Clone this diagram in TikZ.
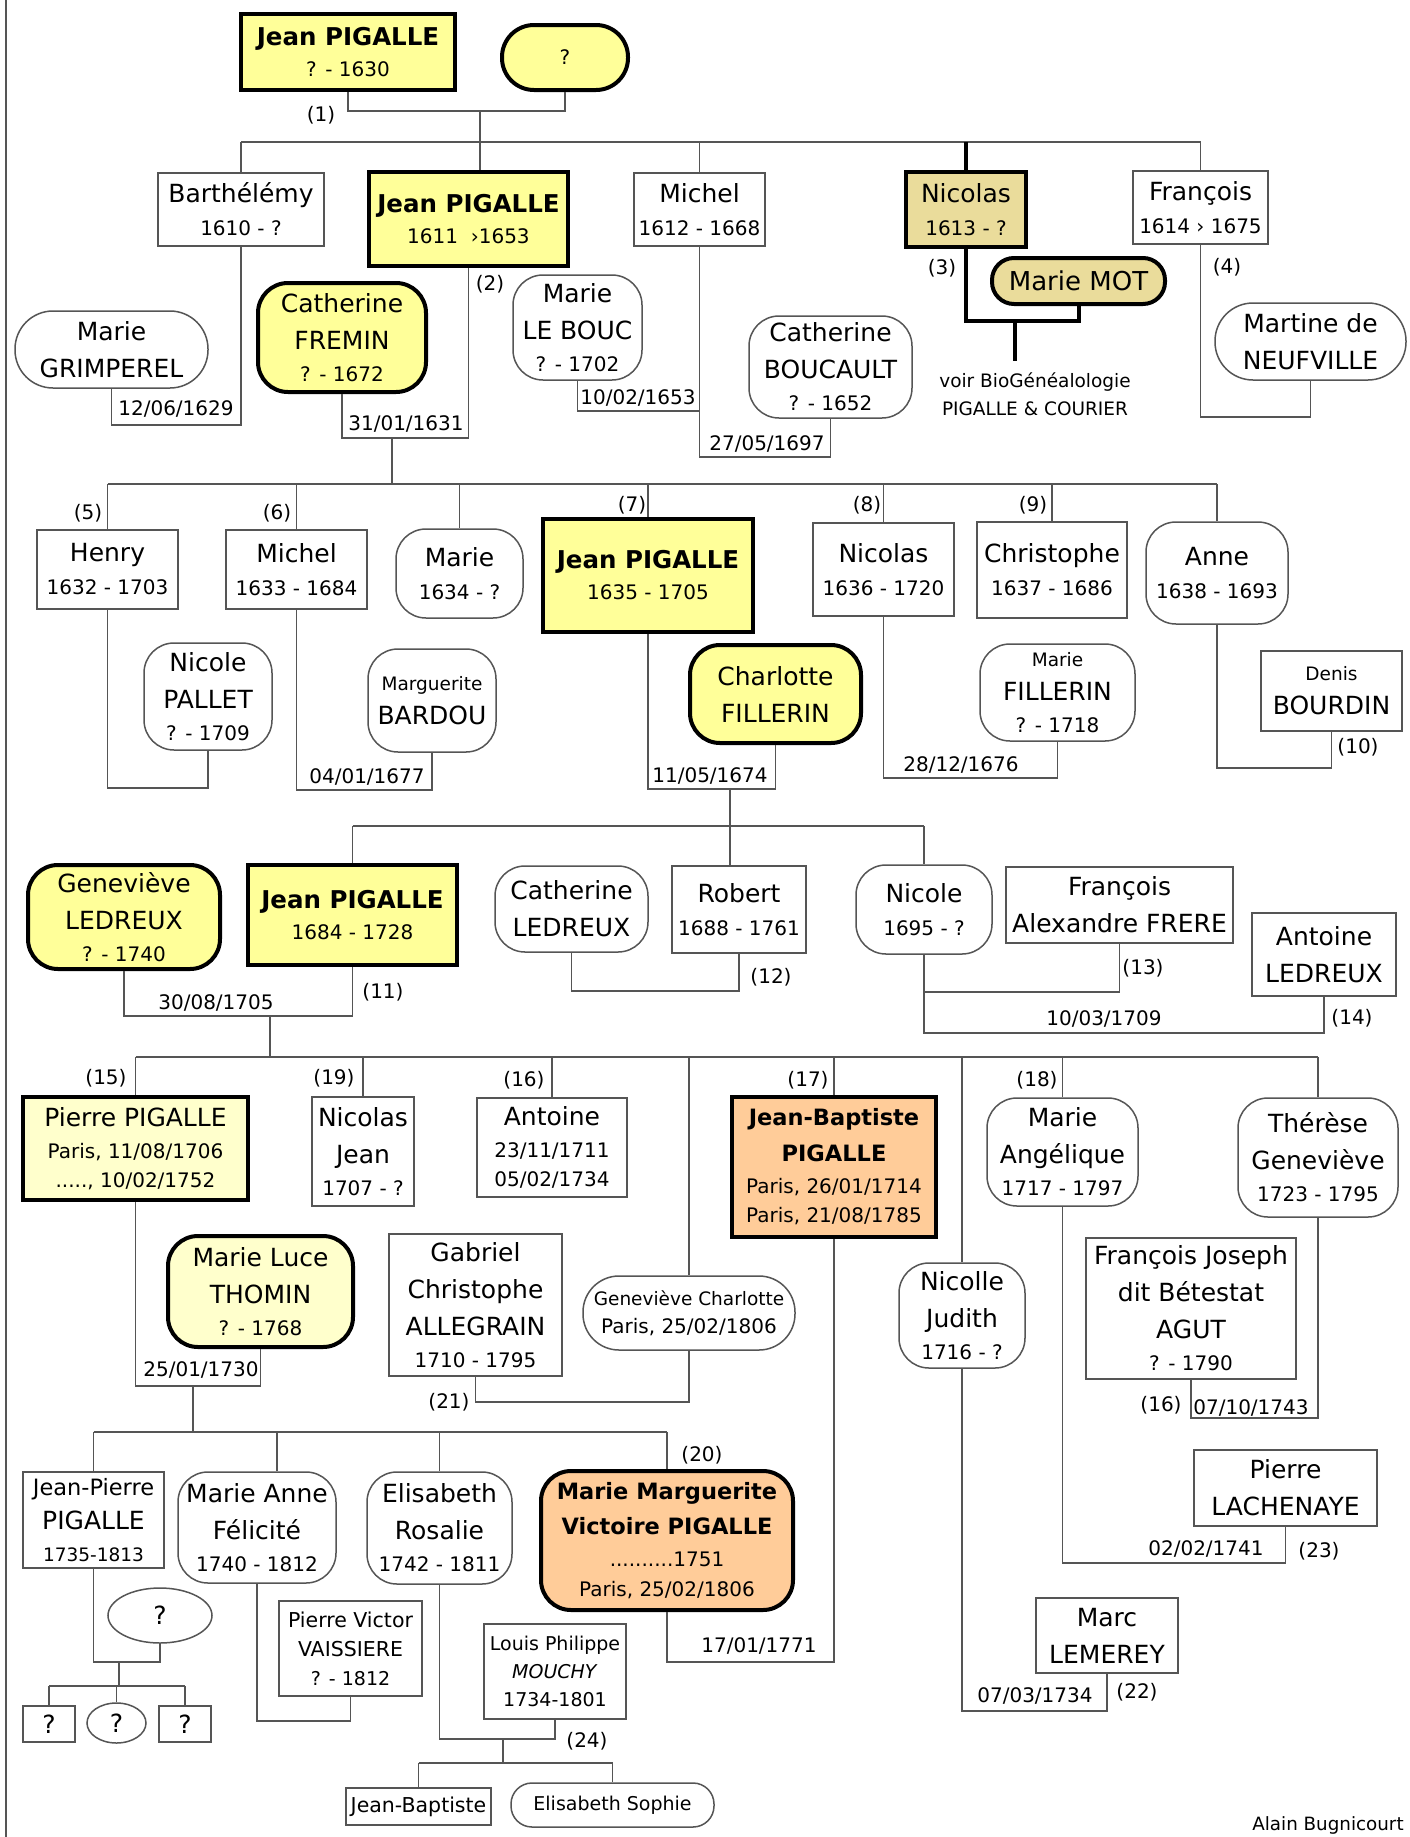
\documentclass[tikz,border=0pt]{standalone}
\usepackage{fontspec}
\setmainfont{DejaVu Sans}
\usetikzlibrary{shapes.geometric, calc}

\definecolor{pyellow}{RGB}{255,255,153}
\definecolor{plight}{RGB}{255,255,204}
\definecolor{ptan}{RGB}{234,220,155}
\definecolor{porange}{RGB}{255,204,153}
\definecolor{lnc}{RGB}{85,85,85}

\newcommand\txname{\fontsize{25}{37}\selectfont}
\newcommand\txdate{\fontsize{20}{28}\selectfont}
\newcommand\txbold{\fontsize{24.5}{34}\selectfont\bfseries}
\newcommand\txboldb{\fontsize{22.5}{34}\selectfont\bfseries}
\newcommand\txsmall{\fontsize{18.5}{28}\selectfont}

\begin{document}
\begin{tikzpicture}[x=1pt, y=-1pt,
    person/.style={draw=lnc, line width=1.5pt, fill=white, align=center, inner sep=0pt, font=\txname},
    rperson/.style={person, rounded corners=30pt},
    pperson/.style={person, rounded corners=#1},
    operson/.style={person, ellipse},
    main/.style={draw=black, line width=4pt},
    num/.style={font=\txdate, inner sep=0pt},
    wed/.style={font=\txdate, inner sep=0pt},
    rel/.style={draw=lnc, line width=1.5pt},
    thickrel/.style={draw=black, line width=4pt}
]
\fill[white] (0,0) rectangle (1409,1837);
\useasboundingbox (0,0) rectangle (1409,1837);
\draw[rel] (6,0) -- (6,1837);

% Génération 1
\node[person, main, fill=pyellow, minimum width=214, minimum height=76] (jean1) at (348,52) {{\txbold Jean PIGALLE}\\[-6pt]{\txdate ? - 1630}};
\node[pperson=32pt, main, fill=pyellow, minimum width=126, minimum height=65] (wife1) at (565,57.5) {{\txdate ?}};
\node[num] (n1) at (321,115) {(1)};

% Génération 2
\node[person, minimum width=166, minimum height=73] (barth) at (241,209.5) {Barthélémy\\[-4pt]{\txdate 1610 - ?}};
\node[person, main, fill=pyellow, minimum width=199, minimum height=94] (jean2) at (468.5,219) {{\txbold Jean PIGALLE}\\[-6pt]{\txdate 1611 \ ›1653}};
\node[person, minimum width=131, minimum height=73] (michel1) at (699.5,209.5) {Michel\\[-4pt]{\txdate 1612 - 1668}};
\node[person, main, fill=ptan, minimum width=120, minimum height=75] (nicolas1) at (966,209.5) {Nicolas\\[-4pt]{\txdate 1613 - ?}};
\node[person, minimum width=135, minimum height=73] (francois1) at (1200.5,207.5) {François\\[-4pt]{\txdate 1614 › 1675}};

\node[pperson=38pt, minimum width=193, minimum height=77] (grimp) at (111.5,349.5) {Marie\\GRIMPEREL};
\node[rperson, main, fill=pyellow, minimum width=168, minimum height=109] (fremin) at (342,337.5) {Catherine\\FREMIN\\[-5pt]{\txdate ? - 1672}};
\node[rperson, minimum width=129, minimum height=105] (lebouc) at (577.5,327.5) {Marie\\LE BOUC\\[-5pt]{\txdate ? - 1702}};
\node[rperson, minimum width=163, minimum height=102] (boucault) at (830.5,367) {Catherine\\BOUCAULT\\[-5pt]{\txdate ? - 1652}};
\node[pperson=22pt, main, fill=ptan, minimum width=173, minimum height=46] (mot) at (1078.5,281) {{\fontsize{26}{30}\selectfont Marie MOT}};
\node[pperson=38pt, minimum width=191, minimum height=77] (martine) at (1310.5,341.5) {Martine de\\NEUFVILLE};
\node[font=\txsmall, align=center, inner sep=0pt] (voir) at (1035,394) {voir BioGénéalologie\\PIGALLE \& COURIER};
\coordinate (voirtop) at (1015,361);

\node[num] (n2) at (490,284) {(2)};
\node[num] (n3) at (942,268) {(3)};
\node[num] (n4) at (1227,267) {(4)};
\node[wed] (d1629) at (176,409) {12/06/1629};
\node[wed] (d1631) at (406,424) {31/01/1631};
\node[wed] (d1653) at (638,398) {10/02/1653};
\node[wed] (d1697) at (767,444) {27/05/1697};

% Génération 3
\node[person, minimum width=141, minimum height=79] (henry) at (107.5,569.5) {Henry\\[-4pt]{\txdate 1632 - 1703}};
\node[person, minimum width=141, minimum height=79] (michel2) at (296.5,569.5) {Michel\\[-4pt]{\txdate 1633 - 1684}};
\node[rperson, minimum width=127, minimum height=89] (marie3) at (459.5,573.5) {Marie\\[-4pt]{\txdate 1634 - ?}};
\node[person, main, fill=pyellow, minimum width=210, minimum height=113] (jean3) at (648,575.5) {{\txbold Jean PIGALLE}\\[-6pt]{\txdate 1635 - 1705}};
\node[person, minimum width=141, minimum height=93] (nicolas2) at (883.5,569.5) {Nicolas\\[-4pt]{\txdate 1636 - 1720}};
\node[person, minimum width=150, minimum height=96] (christophe) at (1052,570) {Christophe\\[-4pt]{\txdate 1637 - 1686}};
\node[rperson, minimum width=142, minimum height=102] (anne) at (1217,573) {Anne\\[-4pt]{\txdate 1638 - 1693}};

\node[rperson, minimum width=128, minimum height=107] (pallet) at (208,696.5) {Nicole\\PALLET\\[-5pt]{\txdate ? - 1709}};
\node[rperson, minimum width=128, minimum height=103] (bardou) at (432,700.5) {{\txsmall Marguerite}\\[-3pt]BARDOU};
\node[rperson, main, fill=pyellow, minimum width=171, minimum height=98] (charlotte) at (775.5,694) {Charlotte\\FILLERIN};
\node[rperson, minimum width=155, minimum height=97] (fillerin) at (1057.5,692.5) {{\txsmall Marie}\\[-3pt]FILLERIN\\[-5pt]{\txdate ? - 1718}};
\node[person, minimum width=141, minimum height=80] (bourdin) at (1331.5,691) {{\txsmall Denis}\\[-3pt]BOURDIN};

\node[num] (n5) at (88,513) {(5)};
\node[num] (n6) at (277,513) {(6)};
\node[num] (n7) at (632,505) {(7)};
\node[num] (n8) at (867,505) {(8)};
\node[num] (n9) at (1033,505) {(9)};
\node[num] (n10) at (1358,747) {(10)};
\node[wed] (d1677) at (367,777) {04/01/1677};
\node[wed] (d1674) at (710,776) {11/05/1674};
\node[wed] (d1676) at (961,765) {28/12/1676};

% Génération 4
\node[rperson, main, fill=pyellow, minimum width=192, minimum height=104] (genevieve) at (124,917) {Geneviève\\LEDREUX\\[-5pt]{\txdate ? - 1740}};
\node[person, main, fill=pyellow, minimum width=209, minimum height=100] (jean4) at (352.5,915) {{\txbold Jean PIGALLE}\\[-6pt]{\txdate 1684 - 1728}};
\node[rperson, minimum width=153, minimum height=86] (ledreuxC) at (571.5,909) {Catherine\\LEDREUX};
\node[person, minimum width=134, minimum height=87] (robert) at (739,909.5) {Robert\\[-4pt]{\txdate 1688 - 1761}};
\node[rperson, minimum width=136, minimum height=89] (nicole) at (924,909.5) {Nicole\\[-4pt]{\txdate 1695 - ?}};
\node[person, minimum width=227, minimum height=76] (frere) at (1119.5,905) {François\\Alexandre FRERE};
\node[person, minimum width=144, minimum height=83] (antoineL) at (1324,954.5) {Antoine\\LEDREUX};

\node[num] (n11) at (383,992) {(11)};
\node[num] (n12) at (771,977) {(12)};
\node[num] (n13) at (1143,968) {(13)};
\node[num] (n14) at (1352,1018) {(14)};
\node[wed] (d1705) at (216,1003) {30/08/1705};
\node[wed] (d1709) at (1104,1019) {10/03/1709};

% Génération 5
\node[person, main, fill=plight, minimum width=225, minimum height=103] (pierre) at (135.5,1148.5) {Pierre PIGALLE\\[-5pt]{\txdate Paris, 11/08/1706}\\[-8pt]{\txdate ....., 10/02/1752}};
\node[person, minimum width=102, minimum height=109] (nicolasJ) at (363,1151.5) {Nicolas\\Jean\\[-5pt]{\txdate 1707 - ?}};
\node[person, minimum width=150, minimum height=99] (antoine) at (552,1147.5) {Antoine\\[-5pt]{\txdate 23/11/1711}\\[-8pt]{\txdate 05/02/1734}};
\node[pperson=36pt, minimum width=212, minimum height=74] (genC) at (689,1313) {{\txsmall Geneviève Charlotte}\\[-9pt]{\txdate Paris, 25/02/1806}};
\node[person, main, fill=porange, minimum width=204, minimum height=140] (jb) at (834,1167) {{\txboldb Jean-Baptiste}\\[-1pt]{\txboldb PIGALLE}\\[-5pt]{\txdate Paris, 26/01/1714}\\[-8pt]{\txdate Paris, 21/08/1785}};
\node[rperson, minimum width=126, minimum height=105] (nicolle) at (962,1315.5) {Nicolle\\Judith\\[-5pt]{\txdate 1716 - ?}};
\node[rperson, minimum width=151, minimum height=108] (angelique) at (1062.5,1152) {Marie\\Angélique\\[-5pt]{\txdate 1717 - 1797}};
\node[rperson, minimum width=160, minimum height=119] (therese) at (1318,1157.5) {Thérèse\\Geneviève\\[-5pt]{\txdate 1723 - 1795}};

\node[rperson, main, fill=plight, minimum width=185, minimum height=111] (thomin) at (260.5,1291.5) {Marie Luce\\THOMIN\\[-5pt]{\txdate ? - 1768}};
\node[person, minimum width=173, minimum height=142] (allegrain) at (475.5,1305) {Gabriel\\Christophe\\ALLEGRAIN\\[-5pt]{\txdate 1710 - 1795}};
\node[person, minimum width=210, minimum height=141] (agut) at (1191,1308.5) {François Joseph\\dit Bétestat\\AGUT\\[-5pt]{\txdate ? - 1790}};
\node[person, minimum width=183, minimum height=76] (lachenaye) at (1285.5,1488) {Pierre\\LACHENAYE};
\node[person, minimum width=142, minimum height=75] (lemerey) at (1107,1635.5) {Marc\\LEMEREY};

\node[num] (n15) at (106,1078) {(15)};
\node[num] (n19) at (334,1078) {(19)};
\node[num] (n16) at (524,1080) {(16)};
\node[num] (n17) at (808,1080) {(17)};
\node[num] (n18) at (1037,1080) {(18)};
\node[num] (n21) at (449,1402) {(21)};
\node[num] (n16b) at (1161,1405) {(16)};
\node[num] (n23) at (1319,1551) {(23)};
\node[num] (n22) at (1137,1692) {(22)};
\node[wed] (d1730) at (201,1370) {25/01/1730};
\node[wed] (d1743) at (1251,1408) {07/10/1743};
\node[wed] (d1741) at (1206,1549) {02/02/1741};
\node[wed] (d1734) at (1035,1696) {07/03/1734};
\node[wed] (d1771) at (759,1646) {17/01/1771};

% Génération 6
\node[person, minimum width=141, minimum height=96] (jp) at (93.5,1520) {{\fontsize{22.5}{30}\selectfont Jean-Pierre}\\[-3pt]PIGALLE\\[-5pt]{\txsmall 1735-1813}};
\node[rperson, minimum width=158, minimum height=111] (marieAnne) at (257,1527.5) {Marie Anne\\Félicité\\[-5pt]{\txdate 1740 - 1812}};
\node[rperson, minimum width=145, minimum height=112] (elisabeth) at (439.5,1528) {Elisabeth\\Rosalie\\[-5pt]{\txdate 1742 - 1811}};
\node[rperson, main, fill=porange, minimum width=252, minimum height=139] (mmv) at (667,1540.5) {{\txboldb Marie Marguerite}\\[-2pt]{\txboldb Victoire PIGALLE}\\[-5pt]{\txdate ..........1751}\\[-7pt]{\txdate Paris, 25/02/1806}};

\node[operson, minimum width=104, minimum height=55] (q1) at (160,1615.5) {?};
\node[person, minimum width=52, minimum height=36] (qa) at (49,1724) {?};
\node[operson, minimum width=59, minimum height=40] (qb) at (116.5,1723) {?};
\node[person, minimum width=52, minimum height=36] (qc) at (185,1724) {?};
\node[person, font=\fontsize{20.5}{29}\selectfont, minimum width=143, minimum height=95] (vaissiere) at (350.5,1648.5) {Pierre Victor\\VAISSIERE\\{\fontsize{19}{29}\selectfont ? - 1812}};
\node[person, font=\fontsize{19}{28}\selectfont, minimum width=142, minimum height=95] (mouchy) at (555,1671.5) {Louis Philippe\\\textit{MOUCHY}\\1734-1801};
\node[person, font=\fontsize{20.5}{24}\selectfont, minimum width=145, minimum height=37] (jbap) at (418.5,1806.5) {Jean-Baptiste};
\node[pperson=21pt, font=\fontsize{19}{24}\selectfont, minimum width=203, minimum height=44] (sophie) at (612.5,1805) {Elisabeth Sophie};

\node[num] (n20) at (702,1455) {(20)};
\node[num] (n24) at (587,1741) {(24)};
\node[font=\fontsize{18.3}{22}\selectfont, inner sep=0pt, anchor=base] (sign) at (1328,1830) {Alain Bugnicourt};

% Liens : génération 1 -> 2
\coordinate (m1) at (480,111);
\coordinate (s1) at (480,142);
\draw[rel] (jean1.south) |- (m1) -| (wife1.south);
\draw[rel] (m1) -- (s1) -- (s1 |- jean2.north);
\draw[rel] (barth.north |- s1) -- (francois1.north |- s1);
\foreach \p in {barth, michel1, francois1} {
    \draw[rel] (\p.north |- s1) -- (\p.north);
}
\draw[thickrel] (nicolas1.north |- s1) -- (nicolas1.north);

% Mariages génération 2
\coordinate (mb) at (176,425);
\coordinate (m2) at (392,438);
\coordinate (s2) at (392,484);
\coordinate (mm1) at (699.5,411);
\coordinate (mm2) at (699.5,457);
\coordinate (mn) at (1015,321);
\coordinate (mf) at (1255,417);
\draw[rel] (barth.south) |- (mb) -| (grimp.south);
\draw[rel] (jean2.south) |- (m2) -| (fremin.south);
\draw[rel] (m2) -- (s2);
\draw[rel] (michel1.south) |- (mm2) -| (boucault.south);
\draw[rel] (lebouc.south) |- (mm1);
\draw[thickrel] (nicolas1.south) |- (mn) -| (mot.south);
\draw[thickrel] (mn) -- (voirtop);
\draw[rel] (francois1.south) |- (mf) -| (martine.south);

% Liens : génération 3
\draw[rel] (henry.north |- s2) -- (anne.north |- s2);
\foreach \p in {henry, michel2, marie3, jean3, nicolas2, christophe, anne} {
    \draw[rel] (\p.north |- s2) -- (\p.north);
}
\coordinate (mh) at (160,788);
\coordinate (mmi) at (367,790);
\coordinate (m7) at (730,789);
\coordinate (s3) at (730,826);
\coordinate (mn8) at (960,778);
\coordinate (ma) at (1270,768);
\draw[rel] (henry.south) |- (mh) -| (pallet.south);
\draw[rel] (michel2.south) |- (mmi) -| (bardou.south);
\draw[rel] (jean3.south) |- (m7) -| (charlotte.south);
\draw[rel] (m7) -- (s3);
\draw[rel] (nicolas2.south) |- (mn8) -| (fillerin.south);
\draw[rel] (anne.south) |- (ma) -| (bourdin.south);

% Liens : génération 4
\draw[rel] (jean4.north |- s3) -- (nicole.north |- s3);
\draw[rel] (s3) -- (s3 |- robert.north);
\foreach \p in {jean4, nicole} {
    \draw[rel] (\p.north |- s3) -- (\p.north);
}
\coordinate (m11) at (270,1016);
\coordinate (s4) at (270,1057);
\coordinate (m12) at (650,991);
\coordinate (m13) at (1000,992);
\coordinate (m14) at (1100,1033);
\draw[rel] (jean4.south) |- (m11) -| (genevieve.south);
\draw[rel] (m11) -- (s4);
\draw[rel] (robert.south) |- (m12) -| (ledreuxC.south);
\draw[rel] (nicole.south) |- (m14) -| (antoineL.south);
\draw[rel] (nicole.south |- m13) -| (frere.south);

% Liens : génération 5
\draw[rel] (pierre.north |- s4) -- (therese.north |- s4);
\foreach \p in {pierre, nicolasJ, antoine, genC, jb, nicolle, angelique, therese} {
    \draw[rel] (\p.north |- s4) -- (\p.north);
}
\coordinate (m15) at (193,1386);
\coordinate (s5) at (193,1432);
\coordinate (m21) at (580,1402);
\coordinate (m20) at (750,1662);
\coordinate (m22) at (1035,1711);
\coordinate (m16) at (1250,1418);
\coordinate (m23) at (1200,1563);
\draw[rel] (pierre.south) |- (m15) -| (thomin.south);
\draw[rel] (m15) -- (s5);
\draw[rel] (genC.south) |- (m21) -| (allegrain.south);
\draw[rel] (jb.south) |- (m20) -| (mmv.south);
\draw[rel] (nicolle.south) |- (m22) -| (lemerey.south);
\draw[rel] (therese.south) |- (m16) -| (agut.south);
\draw[rel] (angelique.south) |- (m23) -| (lachenaye.south);

% Liens : génération 6
\draw[rel] (jp.north |- s5) -- (mmv.north |- s5);
\foreach \p in {jp, elisabeth, mmv} {
    \draw[rel] (\p.north |- s5) -- (\p.north);
}
\draw[rel] ([xshift=20pt]marieAnne.north |- s5) -- ([xshift=20pt]marieAnne.north);
\coordinate (mjp) at (119,1662);
\coordinate (s6) at (119,1686);
\coordinate (mva) at (300,1721);
\coordinate (m24) at (503,1739);
\coordinate (s7) at (503,1763);
\draw[rel] (jp.south) |- (mjp) -| (q1.south);
\draw[rel] (mjp) -- (s6);
\draw[rel] (qa.north |- s6) -- (qc.north |- s6);
\foreach \p in {qa, qb, qc} {
    \draw[rel] (\p.north |- s6) -- (\p.north);
}
\draw[rel] (marieAnne.south) |- (mva) -| (vaissiere.south);
\draw[rel] (elisabeth.south) |- (m24) -| (mouchy.south);
\draw[rel] (m24) -- (s7);
\draw[rel] (jbap.north |- s7) -- (sophie.north |- s7);
\foreach \p in {jbap, sophie} {
    \draw[rel] (\p.north |- s7) -- (\p.north);
}

\end{tikzpicture}
\end{document}
